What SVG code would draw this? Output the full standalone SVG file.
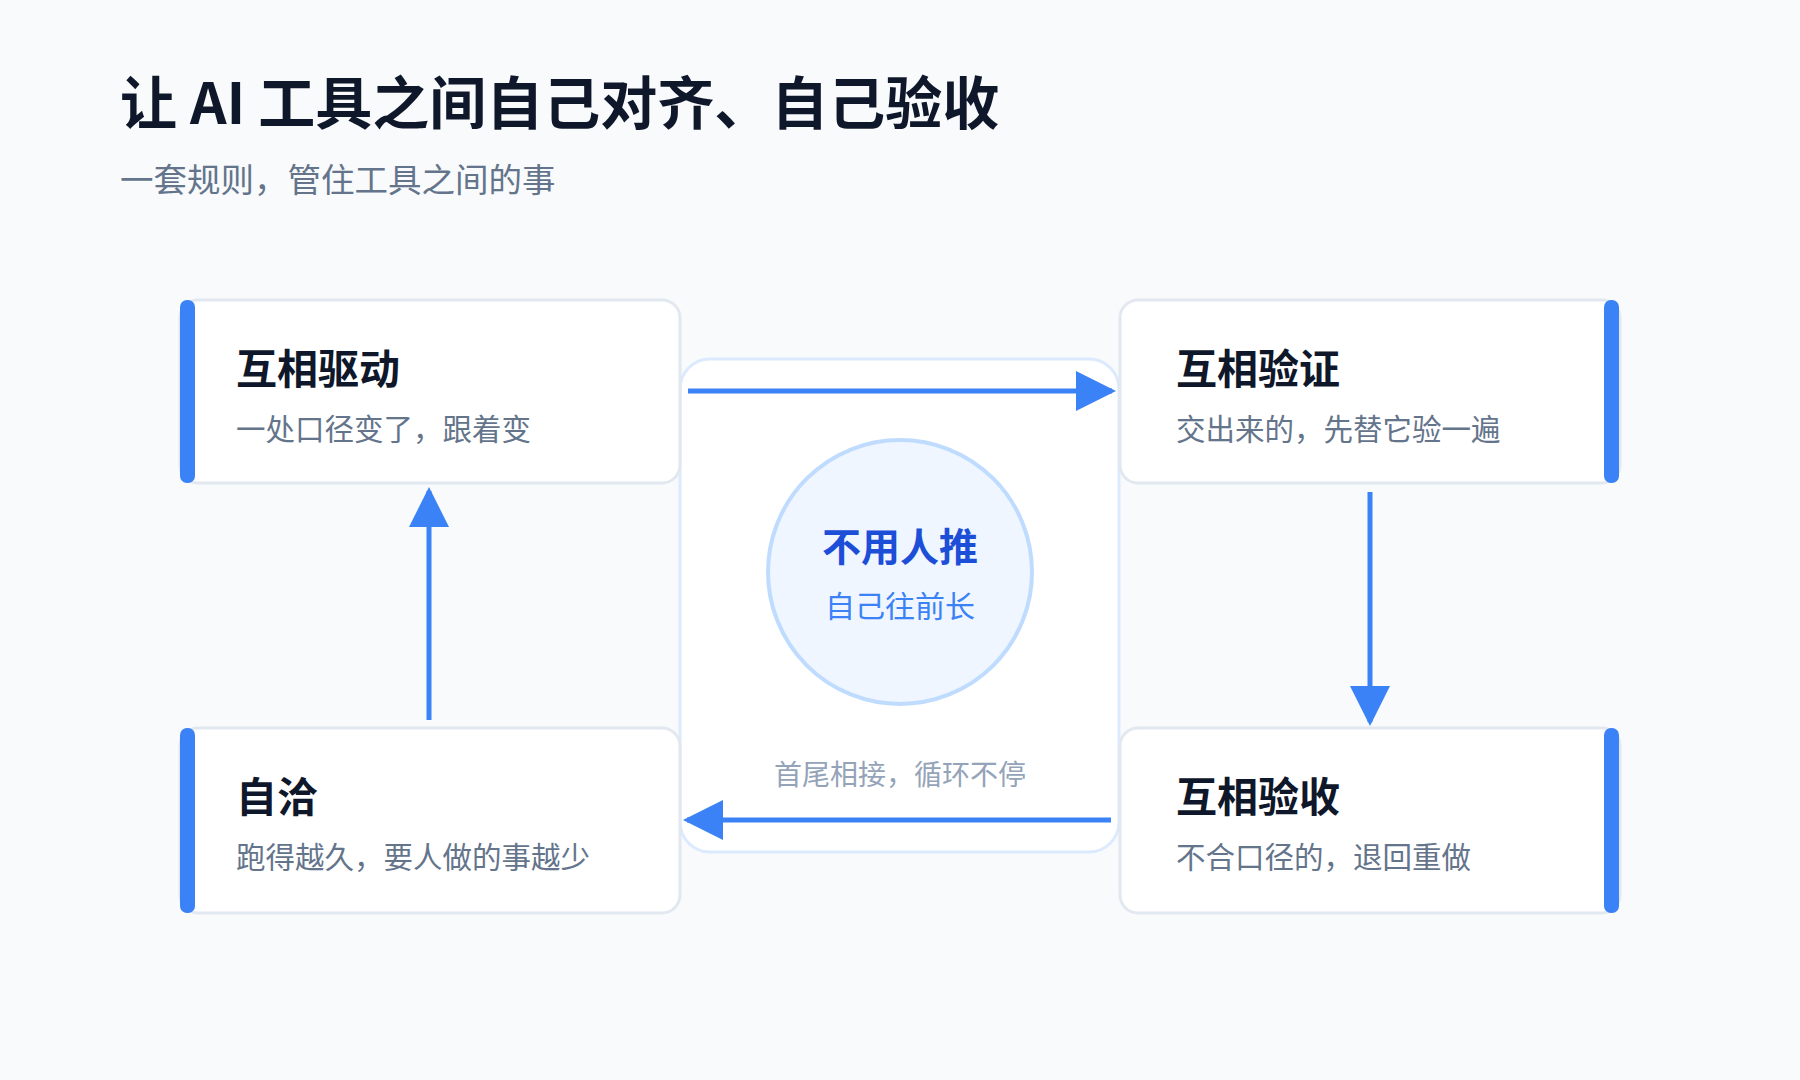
<svg xmlns="http://www.w3.org/2000/svg" width="1800" height="1080" viewBox="0 0 1800 1080">
<defs>
<style>
text{font-family:"Noto Sans CJK SC","Noto Sans",sans-serif}
.card{fill:#fff;stroke:#e2e8f0;stroke-width:3}
.bar{fill:#3b82f6}
.t{font-size:41px;font-weight:700;fill:#0f172a}
.s{font-size:29.5px;fill:#64748b}
.ln{stroke:#3b82f6;stroke-width:5;fill:none}
</style>
<marker id="ah" viewBox="0 0 10 10" refX="9" refY="5" markerWidth="8" markerHeight="8" markerUnits="strokeWidth" orient="auto"><path d="M0,0L10,5L0,10z" fill="#3b82f6"/></marker>
</defs>
<rect width="1800" height="1080" fill="#f8fafc"/>
<text x="120" y="124" font-size="57" font-weight="700" fill="#0f172a">让 AI 工具之间自己对齐、自己验收</text>
<text x="120" y="192" font-size="33.5" fill="#64748b">一套规则，管住工具之间的事</text>
<g id="center">
<rect x="680" y="359" width="439" height="493" rx="30" fill="#fff" stroke="#dbeafe" stroke-width="3"/>
<circle cx="900" cy="572" r="132" fill="#eff6ff" stroke="#bfdbfe" stroke-width="4"/>
<text x="900" y="561" text-anchor="middle" font-size="39" font-weight="700" fill="#1d4ed8">不用人推</text>
<text x="900" y="617" text-anchor="middle" font-size="30" fill="#3b82f6">自己往前长</text>
<text x="900" y="785" text-anchor="middle" font-size="28" fill="#94a3b8">首尾相接，循环不停</text>
</g>
<g id="n1"><rect class="card" x="180" y="300" width="500" height="183" rx="18"/><rect class="bar" x="180" y="300" width="15" height="183" rx="7"/>
<text class="t" x="236" y="384">互相驱动</text><text class="s" x="236" y="440">一处口径变了，跟着变</text></g>
<g id="n2"><rect class="card" x="1120" y="300" width="500" height="183" rx="18"/><rect class="bar" x="1604" y="300" width="15" height="183" rx="7"/>
<text class="t" x="1176" y="384">互相验证</text><text class="s" x="1176" y="440">交出来的，先替它验一遍</text></g>
<g id="n3"><rect class="card" x="1120" y="728" width="500" height="185" rx="18"/><rect class="bar" x="1604" y="728" width="15" height="185" rx="7"/>
<text class="t" x="1176" y="812">互相验收</text><text class="s" x="1176" y="868">不合口径的，退回重做</text></g>
<g id="n4"><rect class="card" x="180" y="728" width="500" height="185" rx="18"/><rect class="bar" x="180" y="728" width="15" height="185" rx="7"/>
<text class="t" x="236" y="812">自洽</text><text class="s" x="236" y="868">跑得越久，要人做的事越少</text></g>
<g id="connectors">
<line class="ln" x1="688" y1="391" x2="1112" y2="391" marker-end="url(#ah)"/>
<line class="ln" x1="1370" y1="492" x2="1370" y2="722" marker-end="url(#ah)"/>
<line class="ln" x1="1111" y1="820" x2="687" y2="820" marker-end="url(#ah)"/>
<line class="ln" x1="429" y1="720" x2="429" y2="491" marker-end="url(#ah)"/>
</g>
</svg>
